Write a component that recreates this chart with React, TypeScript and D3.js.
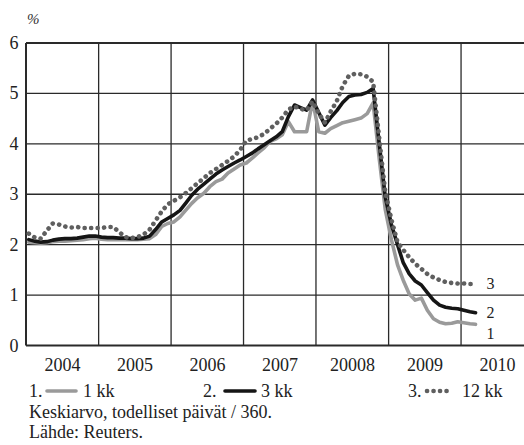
import React from "react";
import * as d3 from "d3";

const months: string[] = [];
for (let y = 2004; y <= 2010; y++) {
  for (let m = 1; m <= 12; m++) {
    if (y === 2010 && m > 3) break;
    months.push(`${y}-${String(m).padStart(2, "0")}-15`);
  }
}

const kk1 = [
  2.05, 2.04, 2.03, 2.04, 2.06, 2.07, 2.07, 2.08, 2.09, 2.10, 2.12, 2.13,
  2.11, 2.10, 2.10, 2.10, 2.10, 2.10, 2.10, 2.11, 2.12, 2.20, 2.36, 2.42,
  2.45, 2.55, 2.68, 2.82, 2.93, 3.02, 3.15, 3.25, 3.30, 3.42, 3.50, 3.58,
  3.62, 3.72, 3.82, 3.92, 4.05, 4.10, 4.18, 4.44, 4.24, 4.24, 4.24, 4.85,
  4.24, 4.21, 4.30, 4.36, 4.42, 4.45, 4.48, 4.51, 4.60, 4.81, 3.70, 2.70,
  2.10, 1.60, 1.30, 1.02, 0.90, 0.94, 0.70, 0.53, 0.46, 0.43, 0.44, 0.47,
  0.45, 0.43, 0.42,
];
const kk3 = [
  2.10, 2.07, 2.05, 2.06, 2.09, 2.11, 2.12, 2.12, 2.13, 2.15, 2.17, 2.17,
  2.15, 2.14, 2.14, 2.13, 2.13, 2.12, 2.12, 2.13, 2.17, 2.30, 2.45, 2.52,
  2.59, 2.68, 2.82, 2.98, 3.10, 3.20, 3.30, 3.40, 3.48, 3.55, 3.62, 3.68,
  3.75, 3.82, 3.90, 3.98, 4.06, 4.14, 4.24, 4.54, 4.77, 4.72, 4.67, 4.87,
  4.62, 4.37, 4.52, 4.66, 4.82, 4.94, 4.97, 4.98, 5.02, 5.10, 4.00, 2.95,
  2.40, 2.00, 1.65, 1.42, 1.28, 1.20, 1.05, 0.90, 0.80, 0.76, 0.74, 0.73,
  0.70, 0.67, 0.65,
];
const kk12 = [
  2.22, 2.14, 2.12, 2.28, 2.42, 2.40, 2.36, 2.34, 2.35, 2.33, 2.33, 2.33,
  2.33, 2.35, 2.35, 2.25, 2.15, 2.13, 2.15, 2.20, 2.30, 2.48, 2.66, 2.80,
  2.87, 2.94, 3.02, 3.12, 3.22, 3.32, 3.42, 3.50, 3.58, 3.66, 3.75, 3.88,
  4.06, 4.10, 4.13, 4.20, 4.30, 4.40, 4.52, 4.68, 4.74, 4.69, 4.67, 4.84,
  4.60, 4.42, 4.64, 4.85, 5.15, 5.35, 5.39, 5.38, 5.33, 5.23, 4.10, 3.05,
  2.50, 2.05, 1.90, 1.75, 1.62, 1.52, 1.42, 1.35, 1.30, 1.26, 1.24, 1.23,
  1.23, 1.22, 1.22,
];

const yearLabels = ["2004", "2005", "2006", "2007", "20008", "2009", "2010"];
const yTicks = [0, 1, 2, 3, 4, 5, 6];
const legendNames = ["1 kk", "3 kk", "12 kk"];
const endLabels = ["1", "2", "3"];

const W = 524;
const H = 445;
const left = 26;
const top = 43;
const bottom = 345.5;
const yearW = 72.5;

export default function App() {
  const parse = d3.timeParse("%Y-%m-%d");
  const dates = months.map((m) => parse(m) as Date);
  const x = d3
    .scaleTime()
    .domain([new Date(2004, 0, 1), new Date(2011, 0, 1)])
    .range([left, left + yearW * 7]);
  const y = d3.scaleLinear().domain([0, 6]).range([bottom, top]);
  const line = d3
    .line<number>()
    .x((_, i) => x(dates[i]))
    .y((v) => y(v))
    .curve(d3.curveLinear);

  const font = '"Liberation Serif", "DejaVu Serif", "Times New Roman", serif';
  const years = d3.range(2004, 2012);

  const series = [
    { data: kk1, color: "#9a9a9a", width: 3.6, dash: undefined as string | undefined },
    { data: kk3, color: "#151515", width: 3.6, dash: undefined },
    { data: kk12, color: "#5f5f5f", width: 4.6, dash: "0.1 6.4" },
  ];
  const lastDate = dates[dates.length - 1];
  const ts = { fontFamily: font };

  const legend = [
    { num: 29, l1: 47, l2: 76, txt: 83 },
    { num: 203, l1: 225, l2: 255, txt: 261 },
    { num: 408, l1: 427, l2: 451, txt: 462 },
  ];
  const endOffset = [14.5, 5, 5];

  return (
    <svg
      width={W}
      height={H}
      style={{ position: "absolute", left: 0, top: 0, background: "#fff", fontFamily: font }}
    >
      <rect width={W} height={H} fill="#fff" />
      {yTicks.map((t) => (
        <line
          key={"h" + t}
          x1={left}
          x2={W}
          y1={y(t)}
          y2={y(t)}
          stroke="#2a2a2a"
          strokeWidth={t === 0 || t === 6 ? 2 : 1.3}
        />
      ))}
      {years.map((yr) => (
        <line
          key={"v" + yr}
          x1={x(new Date(yr, 0, 1))}
          x2={x(new Date(yr, 0, 1))}
          y1={top}
          y2={bottom}
          stroke="#2a2a2a"
          strokeWidth={yr === 2004 ? 2 : 1.3}
        />
      ))}
      {yTicks.map((t) => (
        <text
          key={"yl" + t}
          x={18.5}
          y={y(t) + 6}
          textAnchor="end"
          fontSize={18}
          fill="#222"
          style={ts}
        >
          {t}
        </text>
      ))}
      <text x={27} y={24} fontSize={15} fontStyle="italic" fill="#333" style={ts}>
        %
      </text>
      {yearLabels.map((lab, i) => (
        <text
          key={"xl" + lab}
          x={x(new Date(2004 + i, 6, 1)) + 0.5}
          y={371}
          textAnchor="middle"
          fontSize={18}
          fill="#222"
          style={ts}
        >
          {lab}
        </text>
      ))}
      {series.map((s, i) => (
        <path
          key={"s" + i}
          d={line(s.data) || ""}
          fill="none"
          stroke={s.color}
          strokeWidth={s.width}
          strokeLinejoin="round"
          strokeLinecap="round"
          strokeDasharray={s.dash}
        />
      ))}
      {series.map((s, i) => (
        <text
          key={"el" + i}
          x={x(lastDate) + 11}
          y={y(s.data[s.data.length - 1]) + endOffset[i]}
          fontSize={16}
          fill="#222"
          style={ts}
        >
          {endLabels[i]}
        </text>
      ))}
      {legend.map((lg, i) => (
        <g key={"lg" + i}>
          <text x={lg.num} y={397} fontSize={18} fill="#222" style={ts}>
            {`${i + 1}.`}
          </text>
          <line
            x1={lg.l1}
            x2={lg.l2}
            y1={391}
            y2={391}
            stroke={series[i].color}
            strokeWidth={series[i].width}
            strokeLinecap="round"
            strokeDasharray={series[i].dash}
          />
          <text x={lg.txt} y={397} fontSize={18} fill="#222" style={ts}>
            {legendNames[i]}
          </text>
        </g>
      ))}
      <text x={29} y={418} fontSize={18} fill="#222" style={ts}>
        Keskiarvo, todelliset päivät / 360.
      </text>
      <text x={29} y={438} fontSize={18} fill="#222" style={ts}>
        Lähde: Reuters.
      </text>
    </svg>
  );
}
